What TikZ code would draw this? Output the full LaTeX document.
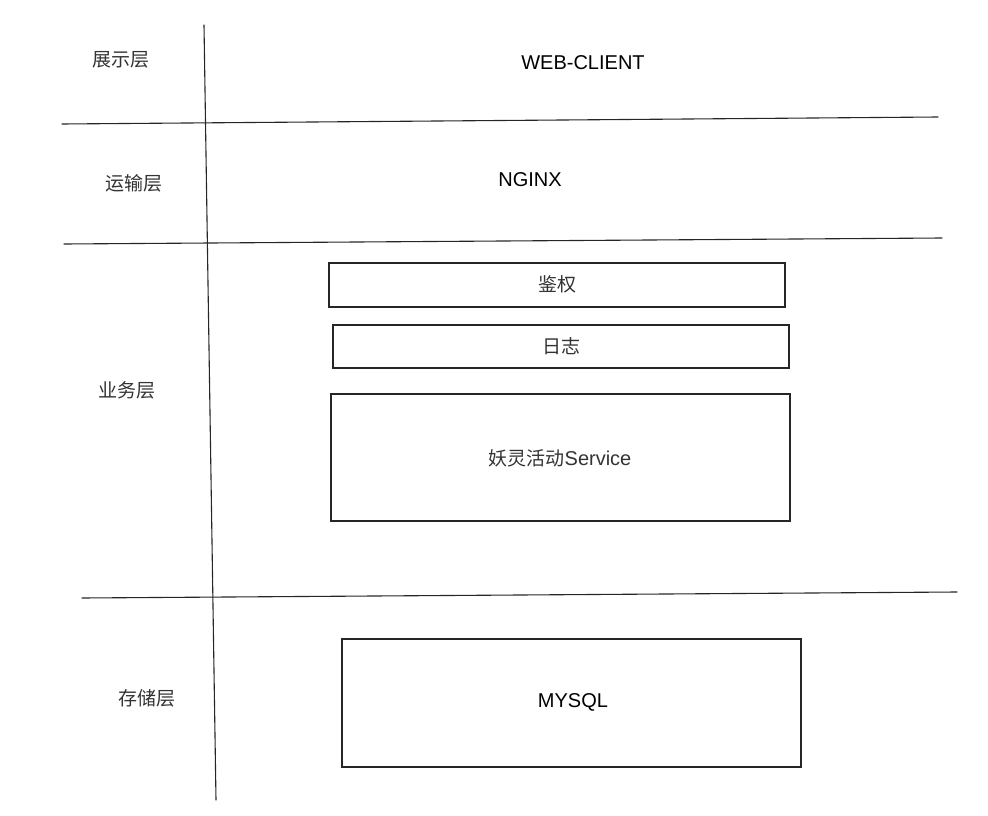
\documentclass[tikz,border=0pt]{standalone}
\usepackage{fontspec}
\setmainfont{Liberation Sans}
\newfontfamily\cjk{Noto Sans CJK SC}

\begin{document}
\begin{tikzpicture}[x=1pt, y=-1pt]
        \tikzstyle{every node}=[font=\cjk\fontsize{19}{22}\selectfont, text=black!80]
        \tikzstyle{sketch}=[draw=black!85, line width=1.1pt, line cap=round]
        \tikzstyle{layerbox}=[sketch, inner sep=0pt]
        \tikzstyle{eng}=[font=\fontsize{20}{24}\selectfont, text=black]

        \useasboundingbox (0,0) rectangle (988,816);

        % layer lines
        \coordinate (vtop) at (204,25);
        \coordinate (vbot) at (216,800);
        \draw[sketch] (vtop) -- (vbot);
        \coordinate (h1a) at (62,124);  \coordinate (h1b) at (938,117);
        \coordinate (h2a) at (64,244);  \coordinate (h2b) at (942,238);
        \coordinate (h3a) at (82,598);  \coordinate (h3b) at (957,592);
        \draw[sketch] (h1a) -- (h1b);
        \draw[sketch] (h2a) -- (h2b);
        \draw[sketch] (h3a) -- (h3b);

        % layer names
        \node (show)    at (121,60)  {展示层};
        \node (trans)   at (134,183) {运输层};
        \node (biz)     at (127,390) {业务层};
        \node (store)   at (147,698) {存储层};

        % contents
        \node[eng] (web)   at (583,63)  {WEB-CLIENT};
        \node[eng] (nginx) at (530,180) {NGINX};

        \draw[layerbox] (329,263) rectangle (785,307);
        \node (auth) at (557,284) {鉴权};
        \draw[layerbox] (333,325) rectangle (789,368);
        \node (log) at (561,346) {日志};
        \draw[layerbox] (331,394) rectangle (790,521);
        \node (svc) at (560,458) {妖灵活动{\rmfamily\fontsize{20}{24}\selectfont Service}};
        \draw[layerbox] (342,639) rectangle (801,767);
        \node[eng] (mysql) at (573,702) {MYSQL};

\end{tikzpicture}
\end{document}
